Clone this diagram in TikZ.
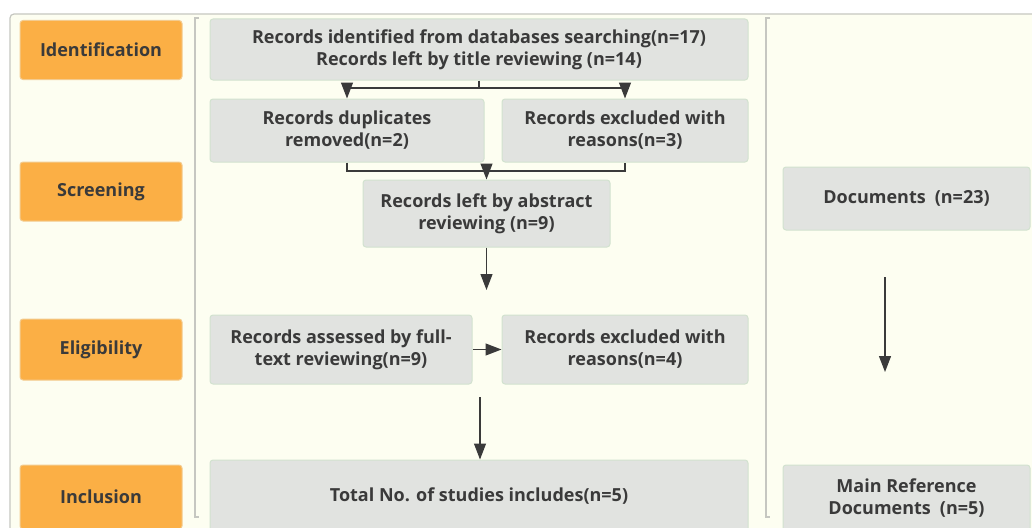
\documentclass[tikz,border=0pt]{standalone}
\usepackage{fontspec}
\setmainfont{Open Sans}
\usetikzlibrary{arrows.meta,calc}
\definecolor{bgyellow}{HTML}{FDFEF1}
\definecolor{stageorange}{HTML}{FBAF45}
\definecolor{stageedge}{HTML}{F3CB8F}
\definecolor{recfill}{HTML}{E1E3E0}
\definecolor{recedge}{HTML}{D2E2CF}
\definecolor{framegray}{HTML}{C6C7C1}
\definecolor{inkgray}{HTML}{3A3A3A}
\begin{document}
\begin{tikzpicture}[x=1pt,y=-1pt,
    stagebox/.style={draw=stageedge,fill=stageorange,rounded corners=3pt,line width=1pt,
      minimum width=162pt,text=inkgray,font=\fontsize{18}{22}\selectfont\bfseries},
    recbox/.style={draw=recedge,fill=recfill,rounded corners=3pt,line width=1pt,align=center,
      text=inkgray,font=\fontsize{18}{22}\selectfont\bfseries},
    flow/.style={draw=inkgray,line width=1.2pt},
    tip/.style={-{Triangle[length=16pt,width=12pt]}}]
      \clip (0,0) rectangle (1032,527);
      \fill[white] (0,0) rectangle (1032,527);
      \draw[framegray,fill=bgyellow,line width=1.2pt,rounded corners=4pt] (10,14) rectangle (1060,560);
      \draw[framegray,line width=1.2pt] (199,18) -- (195,18) -- (195,517) -- (199,517);
      \draw[framegray,line width=1.2pt] (770,18) -- (766,18) -- (766,517) -- (770,517);
      \node[stagebox,minimum height=59pt] (ident) at (101,50) {Identification};
      \node[stagebox,minimum height=59pt] (screen) at (101,191.5) {Screening};
      \node[stagebox,minimum height=61pt] (elig) at (101,349.5) {Eligibility};
      \node[stagebox,minimum height=64pt] (incl) at (101,497) {Inclusion};
      \node[recbox,minimum width=538pt,minimum height=61pt] (recs) at (479,49.5)
        {Records identified from databases searching(n=17)\\Records left by title reviewing (n=14)};
      \node[recbox,minimum width=274pt,minimum height=63pt] (dup) at (347,130.5)
        {Records duplicates\\removed(n=2)};
      \node[recbox,minimum width=246pt,minimum height=63pt] (excla) at (625,130.5)
        {Records excluded with\\reasons(n=3)};
      \node[recbox,minimum width=247pt,minimum height=67pt] (abstr) at (486.5,213.5)
        {Records left by abstract\\reviewing (n=9)};
      \node[recbox,minimum width=262pt,minimum height=69pt] (full) at (341,349.5)
        {Records assessed by full-\\text reviewing(n=9)};
      \node[recbox,minimum width=246pt,minimum height=69pt] (exclb) at (625,349.5)
        {Records excluded with\\reasons(n=4)};
      \node[recbox,minimum width=538pt,minimum height=72pt] (total) at (479,496)
        {Total No. of studies includes(n=5)};
      \node[recbox,minimum width=247pt,minimum height=63pt] (docs) at (906.5,198.5)
        {Documents\enspace(n=23)};
      \node[recbox,minimum width=247pt,minimum height=66pt] (mainref) at (906.5,498)
        {Main Reference\\Documents\enspace(n=5)};
      \coordinate (split) at (recs.south |- 0,88);
      \coordinate (join) at (abstr.north |- 0,171);
      \coordinate (abend) at (abstr.south |- 0,290);
      \coordinate (tstart) at (480,397);
      \coordinate (rstart) at (885,277);
      \coordinate (rend) at (885,372);
      \draw[flow] (recs.south) -- (split);
      \draw[flow,tip] (split) -| (dup.north);
      \draw[flow,tip] (split) -| (excla.north);
      \draw[flow] (dup.south) |- (join) -| (excla.south);
      \draw[flow,tip] (join) -- (abstr.north);
      \draw[flow,tip] (abstr.south) -- (abend);
      \draw[flow,tip] (full) -- (exclb);
      \draw[flow,tip] (tstart) -- (tstart |- total.north);
      \draw[flow,tip] (rstart) -- (rend);
\end{tikzpicture}
\end{document}
